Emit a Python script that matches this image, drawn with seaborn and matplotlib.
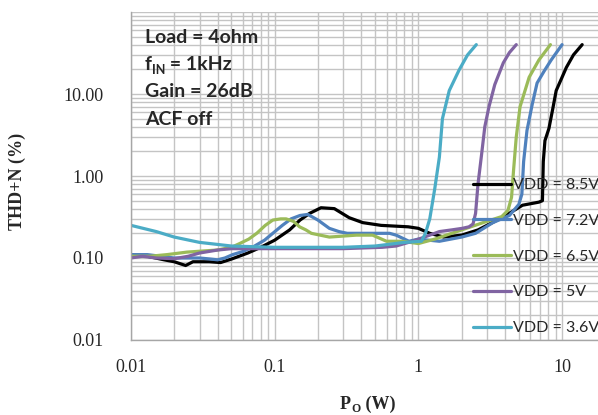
import matplotlib
matplotlib.use("Agg")
import matplotlib.pyplot as plt
import seaborn as sns
import pandas as pd
from matplotlib.ticker import FixedLocator, FixedFormatter, LogLocator, NullFormatter

# THD+N vs output power, one curve per supply voltage
labels = ["VDD = 8.5V", "VDD = 7.2V", "VDD = 6.5V", "VDD = 5V", "VDD = 3.6V"]
colors = ["#000000", "#4F81BD", "#9BBB59", "#8064A2", "#4BACC6"]

p_85 = [0.01, 0.013, 0.017, 0.02, 0.024, 0.027, 0.035, 0.042, 0.05, 0.065, 0.08, 0.1, 0.127, 0.15,
        0.175, 0.21, 0.26, 0.33, 0.41, 0.55, 0.85, 1.0, 1.2, 1.5, 2.0, 2.6, 3.4, 4.4, 5.3, 6.9, 7.3,
        7.4, 7.6, 8.1, 8.6, 9.1, 10.0, 10.7, 12.0, 13.8]
thd_85 = [0.11, 0.105, 0.095, 0.09, 0.081, 0.09, 0.09, 0.088, 0.097, 0.115, 0.135, 0.165, 0.22, 0.29,
          0.35, 0.41, 0.40, 0.31, 0.27, 0.25, 0.24, 0.23, 0.20, 0.18, 0.19, 0.22, 0.28, 0.36, 0.44, 0.48, 0.5,
          1.5, 2.7, 3.8, 6.5, 11, 16, 21, 30, 40]

p_72 = [0.01, 0.013, 0.016, 0.02, 0.025, 0.03, 0.036, 0.04, 0.045, 0.051, 0.06, 0.07, 0.085, 0.097,
        0.113, 0.13, 0.15, 0.17, 0.2, 0.24, 0.28, 0.32, 0.45, 0.63, 0.7, 0.86, 1.0, 1.4, 2.0, 2.5, 3.3,
        4.3, 5.0, 5.25, 5.4, 5.7, 6.2, 6.7, 7.5, 8.4, 10.0]
thd_72 = [0.11, 0.11, 0.105, 0.1, 0.1, 0.1, 0.097, 0.095, 0.1, 0.11, 0.12, 0.135, 0.165, 0.2,
          0.25, 0.3, 0.33, 0.34, 0.29, 0.23, 0.21, 0.2, 0.2, 0.2, 0.19, 0.16, 0.17, 0.16, 0.18, 0.2, 0.27,
          0.33, 0.45, 0.6, 1.5, 3.6, 7.5, 13.6, 19, 26, 40]

p_65 = [0.01, 0.0135, 0.0178, 0.0245, 0.0396, 0.05, 0.057, 0.066, 0.075, 0.086, 0.097, 0.11, 0.12,
        0.135, 0.149, 0.165, 0.18, 0.24, 0.37, 0.48, 0.6, 0.77, 1.0, 1.3, 2.0, 3.0, 3.8, 4.2, 4.45, 4.6,
        4.8, 5.1, 5.9, 6.9, 8.3]
thd_65 = [0.105, 0.105, 0.11, 0.118, 0.125, 0.135, 0.15, 0.17, 0.2, 0.25, 0.29, 0.3, 0.3,
          0.28, 0.24, 0.22, 0.2, 0.18, 0.19, 0.19, 0.16, 0.16, 0.15, 0.17, 0.22, 0.28, 0.32, 0.38, 0.55, 1.2,
          3.0, 7, 16, 26, 40]

p_50 = [0.01, 0.012, 0.015, 0.02, 0.025, 0.03, 0.04, 0.05, 0.1, 0.3, 0.56, 0.7, 0.91, 1.2, 1.4, 1.7,
        2.02, 2.25, 2.4, 2.5, 2.6, 2.75, 2.9, 3.1, 3.4, 3.9, 4.3, 4.8]
thd_50 = [0.10, 0.105, 0.10, 0.098, 0.105, 0.115, 0.125, 0.13, 0.13, 0.13, 0.135, 0.14, 0.16, 0.19, 0.21,
          0.22, 0.23, 0.24, 0.26, 0.35, 0.8, 1.8, 4.0, 7, 13, 24, 32, 40]

p_36 = [0.01, 0.015, 0.02, 0.03, 0.05, 0.1, 0.3, 0.5, 0.8, 1.05, 1.12, 1.2, 1.3, 1.4, 1.47, 1.64,
        1.92, 2.2, 2.53]
thd_36 = [0.25, 0.21, 0.18, 0.155, 0.14, 0.135, 0.135, 0.14, 0.155, 0.16, 0.2, 0.3, 0.7, 1.7, 5, 11,
          19.6, 30, 40]

x_ticks = [0.01, 0.1, 1, 10]
x_tick_labels = ["0.01", "0.1", "1", "10"]
y_ticks = [0.01, 0.1, 1, 10]
y_tick_labels = ["0.01", "0.10", "1.00", "10.00"]

sns.set_style("whitegrid")
plt.rcParams["font.family"] = ["Liberation Serif", "DejaVu Serif"]
sans = ["Lato", "DejaVu Sans"]

fig = plt.figure(figsize=(5.98, 4.15), dpi=100)
ax = fig.add_axes([131 / 598, 1 - 340 / 415, 1 - 131 / 598, 328 / 415])

series = [(p_85, thd_85), (p_72, thd_72), (p_65, thd_65), (p_50, thd_50), (p_36, thd_36)]
for (px, py), lab, col in zip(series, labels, colors):
    df = pd.DataFrame({"P": px, "THD": py})
    sns.lineplot(data=df, x="P", y="THD", ax=ax, sort=False, estimator=None,
                 color=col, linewidth=2.3, label=lab)

ax.set_xscale("log")
ax.set_yscale("log")
ax.set_xlim(0.01, 10 ** 1.25)
ax.set_ylim(0.01, 100)

ax.xaxis.set_major_locator(FixedLocator(x_ticks))
ax.xaxis.set_major_formatter(FixedFormatter(x_tick_labels))
ax.yaxis.set_major_locator(FixedLocator(y_ticks + [100]))
ax.yaxis.set_major_formatter(FixedFormatter(y_tick_labels + [""]))
ax.xaxis.set_minor_locator(LogLocator(base=10, subs=range(2, 10)))
ax.yaxis.set_minor_locator(LogLocator(base=10, subs=range(2, 10)))
ax.xaxis.set_minor_formatter(NullFormatter())
ax.yaxis.set_minor_formatter(NullFormatter())

ax.grid(True, which="both", color="#c4c4c4", linewidth=1.0)
ax.tick_params(which="both", length=0)
ax.tick_params(axis="x", labelsize=13, pad=14)
ax.tick_params(axis="y", labelsize=13, pad=20)
for s in ["top", "right"]:
    ax.spines[s].set_visible(False)
for s in ["left", "bottom"]:
    ax.spines[s].set_color("#a6a6a6")
    ax.spines[s].set_linewidth(1.0)
ax.set_xlabel("")
ax.set_ylabel("")

# axis titles
fig.text(17 / 598, 1 - 181 / 415, "THD+N (%)", rotation=90, ha="center", va="center",
         fontsize=13, fontweight="bold")
t = fig.text(340 / 598, 1 - 409 / 415, "P", fontsize=13, fontweight="bold", va="baseline")
t2 = ax.annotate("O", xy=(1, 0), xycoords=t, xytext=(0, -1.5), textcoords="offset points",
                 fontsize=8.5, fontweight="bold", va="bottom")
ax.annotate(" (W)", xy=(1, 0), xycoords=t, xytext=(7, 0), textcoords="offset points",
            fontsize=13, fontweight="bold", va="bottom")

# condition notes
note_font = dict(fontsize=14, fontweight="bold", family=sans, va="baseline")
fig.text(145 / 598, 1 - 43 / 415, "Load = 4ohm", **note_font)
f = fig.text(145 / 598, 1 - 70 / 415, "f", **note_font)
fin = ax.annotate("IN", xy=(1, 0), xycoords=f, xytext=(0, -2), textcoords="offset points",
                  fontsize=9, fontweight="bold", family=sans, va="bottom")
ax.annotate(" = 1kHz", xy=(1, 0), xycoords=fin, xytext=(0, 2), textcoords="offset points",
            fontsize=14, fontweight="bold", family=sans, va="bottom")
fig.text(145 / 598, 1 - 97 / 415, "Gain = 26dB", **note_font)
fig.text(145 / 598, 1 - 125 / 415, "ACF off", **note_font)

leg = ax.legend(loc="upper left", bbox_to_anchor=(473 / 598, 1 - 178 / 415),
                bbox_transform=fig.transFigure, frameon=False, borderpad=0, borderaxespad=0,
                handlelength=2.35, handletextpad=0.15, labelspacing=1.35,
                prop={"family": sans, "size": 11.5})

fig.savefig("out.png", dpi=100)
